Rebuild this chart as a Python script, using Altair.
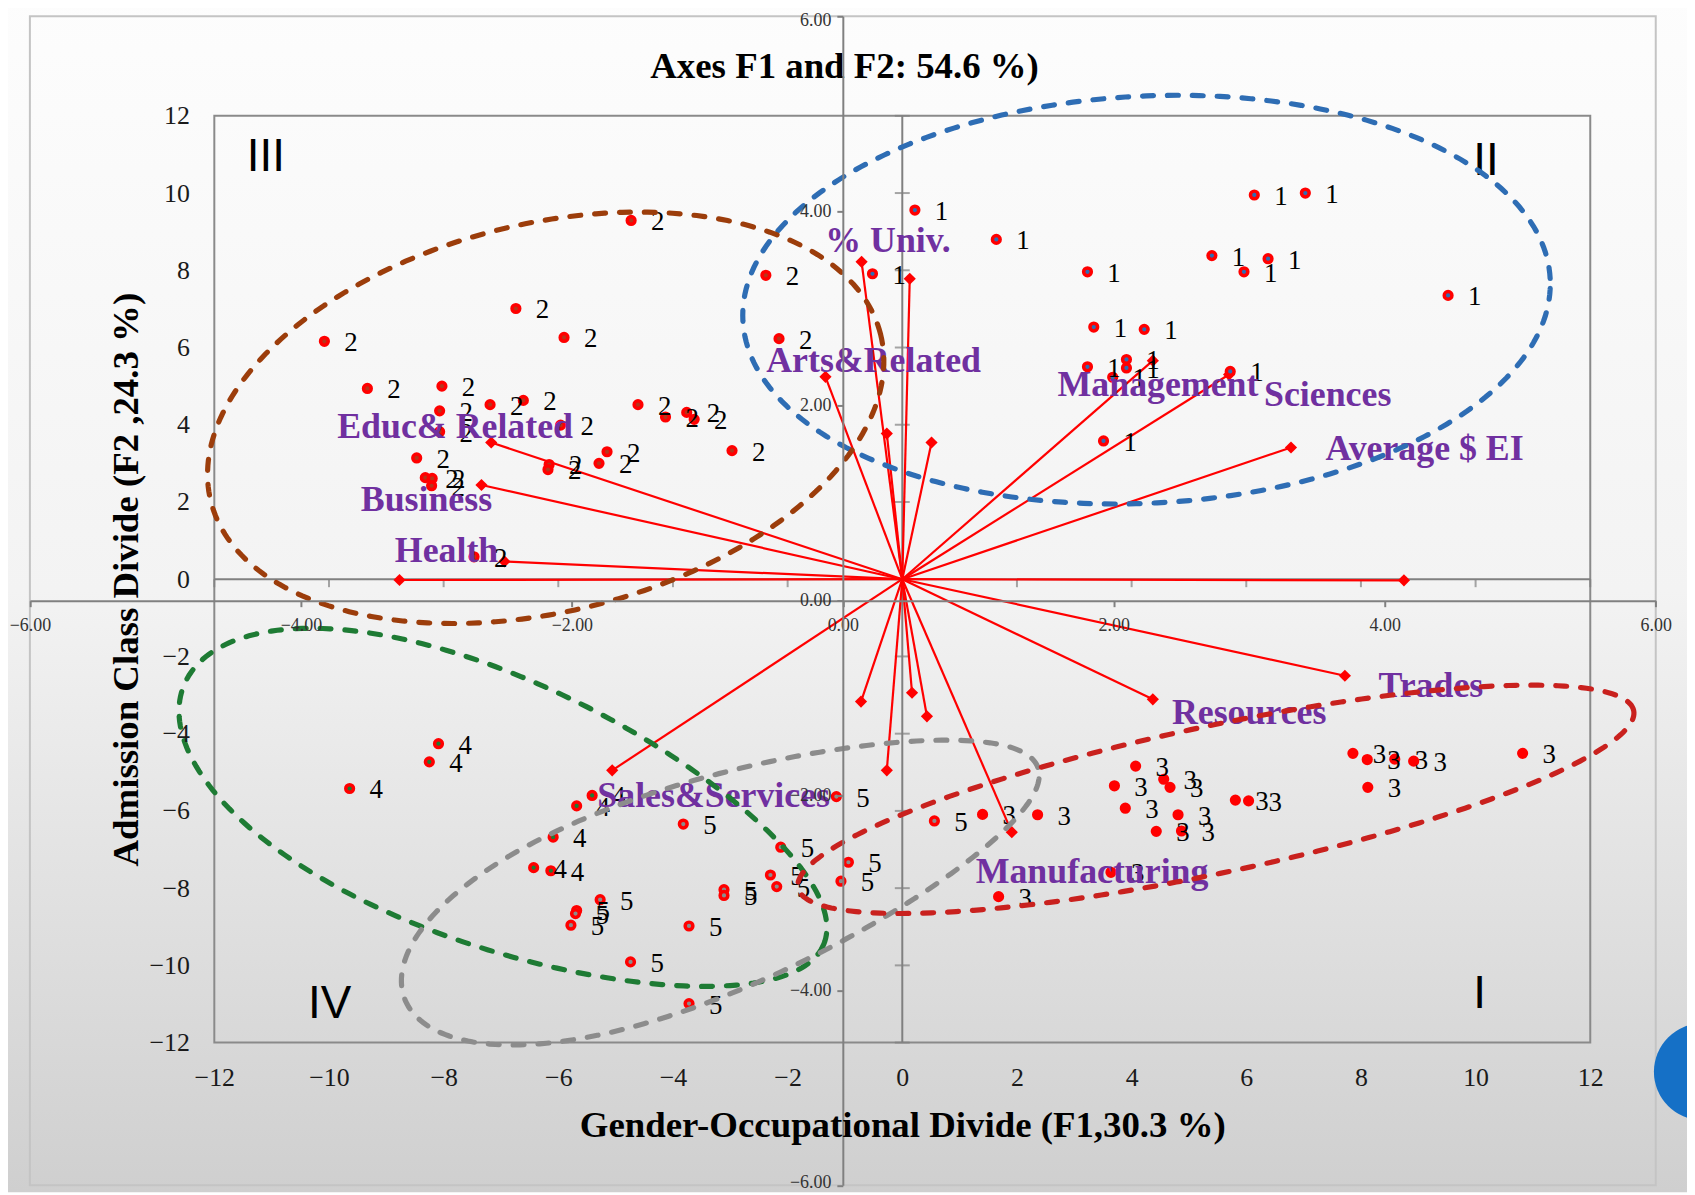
import altair as alt
import pandas as pd
import numpy as np

# ---------------- data (primary axes: F1 x, F2 y) ----------------
g1_x = [0.22, 1.64, 6.14, 7.03, -0.52, 3.23, 5.40, 6.38, 5.96, 9.52, 3.34, 4.22, 3.23, 3.91, 3.91, 3.67, 3.51, 5.72]
g1_y = [9.56, 8.80, 9.95, 10.00, 7.91, 7.96, 8.38, 8.30, 7.96, 7.35, 6.53, 6.47, 5.50, 5.69, 5.47, 5.23, 3.58, 5.38]
g2_x = [-4.73, -2.38, -6.74, -5.90, -2.15, -10.08, -9.33, -8.03, -8.07, -7.19, -6.61, -8.07, -5.96, -4.61,
        -4.13, -3.76, -3.63, -2.97, -8.47, -8.32, -8.20, -8.21, -5.15, -5.29, -6.16, -6.18, -7.47]
g2_y = [9.29, 7.87, 7.01, 6.26, 6.23, 6.16, 4.94, 5.00, 4.36, 4.52, 4.63, 3.82, 3.99, 4.52,
        4.20, 4.32, 4.14, 3.33, 3.14, 2.63, 2.61, 2.42, 3.30, 3.00, 2.97, 2.84, 0.58]
g3_x = [1.40, 2.36, 1.68, 3.64, 4.07, 3.70, 4.56, 4.67, 3.89, 4.81, 4.43, 4.87, 5.81, 6.04, 7.86, 8.11, 8.59, 8.92, 8.12, 10.82]
g3_y = [-6.09, -6.10, -8.22, -7.59, -4.84, -5.35, -5.18, -5.39, -5.93, -6.10, -6.53, -6.52, -5.72, -5.74,
        -4.51, -4.67, -4.66, -4.71, -5.39, -4.51]
g4_x = [-8.09, -8.25, -9.64, -5.68, -5.41, -6.09, -6.43, -6.13]
g4_y = [-4.26, -4.73, -5.42, -5.87, -5.60, -6.68, -7.47, -7.55]
g5_x = [-3.82, -5.27, -5.68, -5.70, -5.78, -3.72, -4.74, -3.72, -3.11, -3.11, -2.12, -2.30, -2.19, -0.94, -1.07, -1.15, 0.56]
g5_y = [-6.34, -8.30, -8.58, -8.66, -8.96, -8.98, -9.91, -10.99, -8.04, -8.19, -6.94, -7.66, -7.96, -7.33, -7.82, -5.63, -6.26]

group_names = ["1", "2", "3", "4", "5"]
group_fill = ["#2E6DB4", "#B8341B", "#FF0000", "#1E7B34", "#8C8C8C"]

# variable vectors (end points)
vec_x = [-0.71, 0.13, -1.34, -0.27, 0.51, 4.37, 5.70, 6.78, 8.75, 7.72, 4.37, 1.91, -0.72, 0.17, 0.43, -0.27,
         -5.06, -8.77, -6.94, -7.34, -7.17]
vec_y = [8.22, 7.78, 5.24, 3.77, 3.54, 5.66, 5.30, 3.41, -0.03, -2.50, -3.11, -6.55, -3.17, -2.94, -3.55, -4.95,
         -4.95, -0.02, 0.46, 2.44, 3.54]

vec_names = ["% Univ.", "Arts&Related", "Management", "Sciences", "Average $ EI", "Trades", "Resources",
             "Manufacturing", "Sales&Services", "Health", "Business", "Educ& Related"]
vec_lab_x = [-0.25, -0.50, 4.46, 7.42, 9.11, 9.22, 6.05, 3.31, -3.29, -7.95, -8.30, -7.80]
vec_lab_y = [8.76, 5.64, 5.04, 4.78, 3.37, -2.77, -3.47, -7.59, -5.61, 0.74, 2.05, 3.94]

quad_text = ["III", "II", "IV", "I"]
quad_x = [-11.10, 10.18, -9.99, 10.07]
quad_y = [10.93, 10.82, -10.99, -10.74]

# cluster ellipses: centre, semi-axes (in x-units), tilt (deg), egg factor
ell_names = ["blue", "brown", "green", "gray", "red"]
ell_colors = ["#2E6DB4", "#9C3D0B", "#1E7B34", "#8C8C8C", "#C9211E"]
ell_cx = [4.26, -6.22, -6.95, -3.16, 5.47]
ell_cy = [7.24, 4.18, -6.10, -7.86, -5.70]
ell_a = [7.05, 6.02, 6.02, 5.88, 7.45]
ell_b = [3.55, 3.38, 2.33, 1.85, 1.28]
ell_deg = [3, 14, -22, 20, 12]
ell_egg = [0.0, 0.0, 0.12, 0.2, 0.0]

prim_ticks = list(range(-12, 13, 2))
sec_ticks = [-6, -4, -2, 0, 2, 4, 6]

# ---------------- layout ----------------
W, H = 1382.5, 931.2
PAD_L, PAD_T = 207.3, 105.5
PAD_R = 1687 - PAD_L - W
PAD_B = 1187 - PAD_T - H
SX_RANGE = [-185.3, 1448.3]
SY_RANGE = [1074.5, -100.1]
K = W / H
BG_TOP = -PAD_T - 20

SERIF = "Liberation Serif"
GRAY = "#808080"

# ---------------- frames ----------------
rows = []
for gname, xs, ys in zip(group_names, [g1_x, g2_x, g3_x, g4_x, g5_x], [g1_y, g2_y, g3_y, g4_y, g5_y]):
    for x, y in zip(xs, ys):
        rows.append({"x": x, "y": y, "grp": gname})
pts = pd.DataFrame(rows)

vec = pd.DataFrame({"x0": 0.0, "y0": 0.0, "vx": vec_x, "vy": vec_y})
vlab = pd.DataFrame({"x": vec_lab_x, "y": vec_lab_y, "t": vec_names})
quad = pd.DataFrame({"x": quad_x, "y": quad_y, "t": quad_text})

erows = []
t = np.linspace(0, 2 * np.pi, 241)
for n, cx, cy, a, b, d, e in zip(ell_names, ell_cx, ell_cy, ell_a, ell_b, ell_deg, ell_egg):
    th = np.deg2rad(d)
    u = a * np.cos(t)
    v = b * (1 - e * np.cos(t)) * np.sin(t)
    rx = u * np.cos(th) - v * np.sin(th)
    ry = u * np.sin(th) + v * np.cos(th)
    for i in range(len(t)):
        erows.append({"x": cx + rx[i], "y": cy + ry[i] * K, "e": n, "o": i})
ell = pd.DataFrame(erows)

box = pd.DataFrame({"x1": [-12], "x2": [12], "y1": [-12], "y2": [12]})
zero = pd.DataFrame({"x1": [0, -12], "y1": [-12, 0], "x2": [0, 12], "y2": [12, 0]})
tick_v = pd.DataFrame({"x": 0, "y": prim_ticks})
tick_h = pd.DataFrame({"x": prim_ticks, "y": 0})

# ---------------- scales & axes ----------------
pxs = alt.Scale(domain=[-12, 12], nice=False, zero=False)
pys = alt.Scale(domain=[-12, 12], nice=False, zero=False)
prim_x_axis = alt.Axis(orient="bottom", values=prim_ticks, format="d", grid=False, domain=False, ticks=False,
                       labelFont=SERIF, labelFontSize=26, labelColor="#1a1a1a", labelPadding=22,
                       labelFlush=False, labelOverlap=False, zindex=2,
                       title="Gender-Occupational Divide (F1,30.3 %)", titleFont=SERIF, titleFontSize=37,
                       titleFontWeight="bold", titleColor="black", titlePadding=17)
prim_y_axis = alt.Axis(orient="left", values=prim_ticks, format="d", grid=False, domain=False, ticks=False,
                       labelFont=SERIF, labelFontSize=26, labelColor="#1a1a1a", labelPadding=25,
                       labelFlush=False, labelOverlap=False, zindex=2,
                       title="Admission Class Divide (F2 ,24.3 %)", titleFont=SERIF, titleFontSize=37,
                       titleFontWeight="bold", titleColor="black", titlePadding=4)


def PX(f):
    return alt.X(f, type="quantitative", scale=pxs, axis=prim_x_axis)


def PY(f):
    return alt.Y(f, type="quantitative", scale=pys, axis=prim_y_axis)


sec_x_axis = alt.Axis(orient="bottom", offset=-(H - (600.7 - 113.5)), values=sec_ticks, format=".2f",
                      grid=False, domainColor=GRAY, domainWidth=2, tickColor=GRAY, tickWidth=2, tickSize=6,
                      labelFont=SERIF, labelFontSize=18, labelColor="#333333", labelPadding=10,
                      labelFlush=False, labelOverlap=False, title=None, zindex=1)
sec_y_axis = alt.Axis(orient="left", offset=-(846.8 - 215.3), values=sec_ticks, format=".2f",
                      grid=False, domainColor=GRAY, domainWidth=2, tickColor=GRAY, tickWidth=2, tickSize=6,
                      labelFont=SERIF, labelFontSize=18, labelColor="#333333", labelPadding=6,
                      labelOffset={"condition": [{"test": "datum.value == 6", "value": 4},
                                                 {"test": "datum.value == -6", "value": -3}],
                                   "value": 0},
                      labelFlush=False, labelOverlap=False, title=None, zindex=1)

# ---------------- layers ----------------
one = pd.DataFrame({"a": [0]})
bg = alt.Chart(one).mark_rect(
    color=alt.LinearGradient(gradient="linear", x1=0, x2=0, y1=0, y2=1,
                             stops=[alt.GradientStop(color="#fdfdfd", offset=0),
                                    alt.GradientStop(color="#f3f3f3", offset=0.5),
                                    alt.GradientStop(color="#cfcfcf", offset=1)]),
    clip=False
).encode(x=alt.value(-PAD_L), x2=alt.value(W + PAD_R), y=alt.value(BG_TOP), y2=alt.value(H + PAD_B))

sec = alt.Chart(pd.DataFrame({"x1": [-6], "x2": [6], "y1": [-6], "y2": [6]})).mark_rect(
    fillOpacity=0, stroke="#c4c4c4", strokeWidth=2, clip=False
).encode(
    x=alt.X("x1:Q", scale=alt.Scale(domain=[-6, 6], range=SX_RANGE, nice=False, zero=False), axis=sec_x_axis),
    x2="x2:Q",
    y=alt.Y("y1:Q", scale=alt.Scale(domain=[-6, 6], range=SY_RANGE, nice=False, zero=False), axis=sec_y_axis),
    y2="y2:Q",
)

pbox = alt.Chart(box).mark_rect(fillOpacity=0, stroke="#8a8a8a", strokeWidth=2).encode(
    x=PX("x1"), x2="x2:Q", y=PY("y1"), y2="y2:Q")
zl = alt.Chart(zero).mark_rule(color=GRAY, strokeWidth=2).encode(
    x=PX("x1"), y=PY("y1"), x2="x2:Q", y2="y2:Q")
tv = alt.Chart(tick_v).mark_tick(orient="horizontal", color=GRAY, size=15, thickness=2).encode(x=PX("x"), y=PY("y"))
th_ = alt.Chart(tick_h).mark_tick(orient="vertical", color=GRAY, size=8, thickness=2, yOffset=4).encode(
    x=PX("x"), y=PY("y"))

vrule = alt.Chart(vec).mark_rule(color="#FF0000", strokeWidth=2.2).encode(
    x=PX("x0"), y=PY("y0"), x2="vx:Q", y2="vy:Q")
vdia = alt.Chart(vec).mark_point(shape="diamond", filled=True, size=150, color="#FF0000", opacity=1).encode(
    x=PX("vx"), y=PY("vy"))

pmark = alt.Chart(pts).mark_point(shape="circle", filled=True, size=60, stroke="#FF0000", strokeWidth=3.5,
                                  opacity=1, fillOpacity=1).encode(
    x=PX("x"), y=PY("y"),
    fill=alt.Fill("grp:N", scale=alt.Scale(domain=group_names, range=group_fill), legend=None))
plab = alt.Chart(pts).mark_text(align="left", baseline="middle", dx=20, dy=2, font=SERIF, fontSize=27,
                                color="black").encode(x=PX("x"), y=PY("y"), text="grp:N")

vtext = alt.Chart(vlab).mark_text(align="center", baseline="middle", font=SERIF, fontSize=36,
                                  fontWeight="bold", color="#7030A0").encode(x=PX("x"), y=PY("y"), text="t:N")
qtext = alt.Chart(quad).mark_text(align="center", baseline="middle",
                                  font="Liberation Sans Narrow, Liberation Sans", fontSize=46,
                                  color="black").encode(x=PX("x"), y=PY("y"), text="t:N")

eline = alt.Chart(ell).mark_line(strokeWidth=5.2, strokeDash=[11, 14], strokeCap="round", clip=False).encode(
    x=PX("x"), y=PY("y"), order="o:Q", detail="e:N",
    color=alt.Color("e:N", scale=alt.Scale(domain=ell_names, range=ell_colors), legend=None))

deco = alt.Chart(one).mark_circle(size=9500, color="#1570C6", opacity=1, clip=False).encode(
    x=alt.value(1495.2), y=alt.value(960.5))

primary = alt.layer(pbox, zl, tv, th_, vrule, vdia, pmark, plab, vtext, qtext, eline)

chart = alt.layer(bg, sec, primary, deco).resolve_scale(x="independent", y="independent").properties(
    width=W, height=H,
    autosize=alt.AutoSizeParams(type="none"),
    padding={"left": PAD_L, "top": PAD_T, "right": PAD_R, "bottom": PAD_B},
    title=alt.TitleParams(text="Axes F1 and F2: 54.6 %)", font=SERIF, fontSize=37, fontWeight="bold",
                          color="black", anchor="middle", frame="group", dx=-58,
                          offset=-125, baseline="alphabetic"),
    background="white",
).configure_view(stroke="transparent")

chart.save("out.html", embed_options={"renderer": "svg", "actions": False})
